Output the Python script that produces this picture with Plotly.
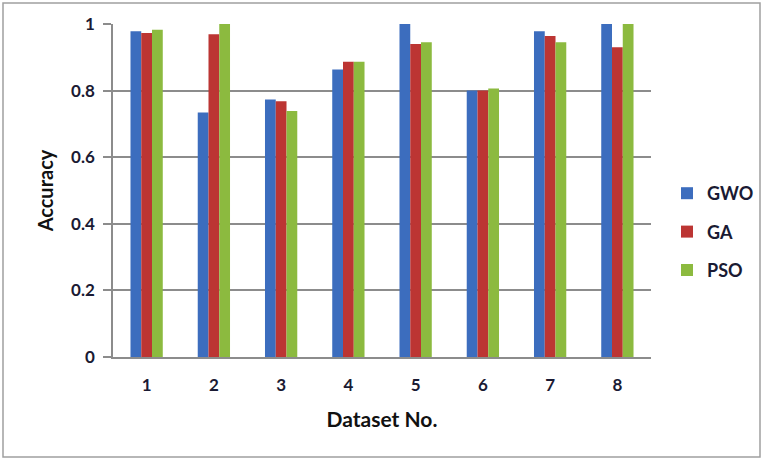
import plotly.graph_objects as go

datasets = ["1", "2", "3", "4", "5", "6", "7", "8"]
gwo = [0.978, 0.734, 0.773, 0.863, 1.0, 0.80, 0.978, 1.0]
ga = [0.973, 0.969, 0.768, 0.887, 0.940, 0.80, 0.964, 0.930]
pso = [0.983, 1.0, 0.739, 0.887, 0.945, 0.806, 0.945, 1.0]

series = [("GWO", gwo, "#3C6DBE"), ("GA", ga, "#BC3533"), ("PSO", pso, "#8CBA3F")]

W, H = 764, 461
L, R, T, B = 113, 651, 24, 357

fig = go.Figure()
for name, vals, col in series:
    fig.add_trace(go.Bar(x=datasets, y=vals, name=name, marker_color=col,
                         marker_line_width=0, legendgroup=name))

font_fam = "Lato, Open Sans, sans-serif"
tick_font = dict(family=font_fam, size=17, color="#1a1a33", weight="bold")

def px_to_paper_x(px):
    return (px - L) / (R - L)

def px_to_paper_y(py):
    return (B - py) / (B - T)

fig.update_layout(
    width=W, height=H,
    margin=dict(l=L, r=W - R, t=T, b=H - B, autoexpand=False),
    paper_bgcolor="white", plot_bgcolor="white",
    barmode="group", bargap=0.52, bargroupgap=0,
    showlegend=True,
    legend=dict(x=px_to_paper_x(667), y=px_to_paper_y(232), xanchor="left", yanchor="middle",
                font=dict(family=font_fam, size=18, color="#1a1a33", weight="bold"),
                traceorder="grouped", tracegroupgap=12,
                itemwidth=30, bgcolor="rgba(0,0,0,0)"),
    xaxis=dict(showline=True, linecolor="#8c8c8c", linewidth=1.5,
               ticks="", tickfont=tick_font, ticklabelstandoff=12,
               title=dict(text="Dataset No.", standoff=18,
                          font=dict(family=font_fam, size=21, color="#111", weight="bold")),
               showgrid=False),
    yaxis=dict(range=[0, 1], tickvals=[0, 0.2, 0.4, 0.6, 0.8, 1],
               ticktext=["0", "0.2", "0.4", "0.6", "0.8", "1"],
               showline=True, linecolor="#8c8c8c", linewidth=1.5,
               ticks="outside", ticklen=8, tickcolor="#8c8c8c", tickwidth=1.5,
               tickfont=tick_font, ticklabelstandoff=5,
               showgrid=True, gridcolor="#8c8c8c", gridwidth=1.5,
               zeroline=False,
               title=dict(text="Accuracy", standoff=12,
                          font=dict(family=font_fam, size=20, color="#111", weight="bold"))),
    shapes=[dict(type="rect", xref="paper", yref="paper",
                 x0=px_to_paper_x(3), x1=px_to_paper_x(760),
                 y0=px_to_paper_y(457), y1=px_to_paper_y(3),
                 line=dict(color="#a0a0a0", width=1.5), fillcolor="rgba(0,0,0,0)",
                 layer="below")],
)

fig.write_html("out.html")
